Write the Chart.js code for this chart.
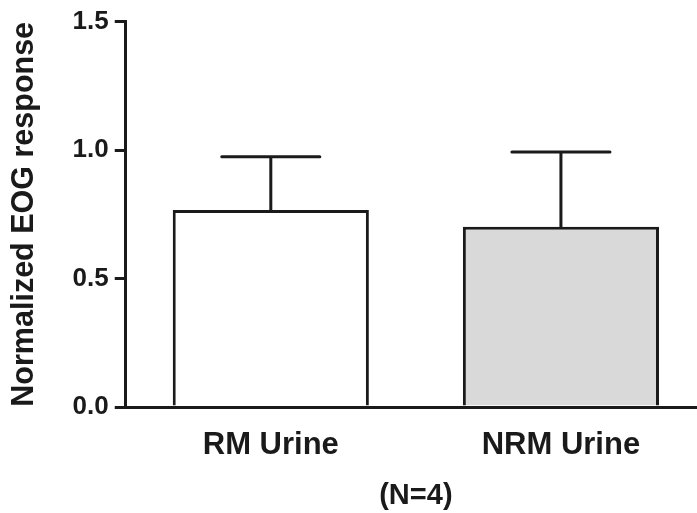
<!DOCTYPE html>
<html>
<head>
<meta charset="utf-8">
<script src="https://cdn.jsdelivr.net/npm/chart.js@4/dist/chart.umd.min.js"></script>
<style>
    html, body { margin: 0; padding: 0; background: #fff; overflow: hidden; }
    #wrap { position: relative; width: 706px; height: 513px; }
</style>
</head>
<body>
<div id="wrap"><canvas id="eogChart"></canvas></div>
<script>
// Data
const groups = ['RM Urine', 'NRM Urine'];
const meanResponse = [0.767, 0.702];
const semResponse = [0.207, 0.290];
const barFills = ['#ffffff', '#d9d9d9'];
const yTicks = [0.0, 0.5, 1.0, 1.5];

const ink = '#1a1a1a';
const fontFamily = "'Liberation Sans', Arial, sans-serif";

// Draw upward error bars with a cap on top of each bar
const errorBars = {
    id: 'errorBars',
    afterDatasetsDraw(chart) {
        const ctx = chart.ctx;
        const yScale = chart.scales.y;
        const meta = chart.getDatasetMeta(0);
        ctx.save();
        ctx.strokeStyle = ink;
        ctx.lineWidth = 3;
        ctx.lineCap = 'round';
        meta.data.forEach((bar, i) => {
            const top = yScale.getPixelForValue(meanResponse[i] + semResponse[i]);
            const half = bar.width / 4;
            ctx.beginPath();
            ctx.moveTo(bar.x, bar.y);
            ctx.lineTo(bar.x, top);
            ctx.moveTo(bar.x - half, top);
            ctx.lineTo(bar.x + half, top);
            ctx.stroke();
        });
        ctx.restore();
    }
};

document.addEventListener('DOMContentLoaded', function() {
    const ctx = document.getElementById('eogChart').getContext('2d');
    new Chart(ctx, {
        type: 'bar',
        data: {
            labels: groups,
            datasets: [{
                data: meanResponse,
                backgroundColor: barFills,
                borderColor: ink,
                borderWidth: 3,
                barPercentage: 0.676,
                categoryPercentage: 1.0
            }]
        },
        options: {
            responsive: true,
            maintainAspectRatio: false,
            animation: false,
            layout: { padding: { top: 21, left: 6, right: 0, bottom: 0 } },
            plugins: {
                legend: { display: false },
                tooltip: { enabled: false }
            },
            scales: {
                x: {
                    grid: { drawOnChartArea: false, drawTicks: false },
                    border: { color: ink, width: 3 },
                    ticks: {
                        color: ink,
                        padding: 20,
                        font: { family: fontFamily, size: 31, weight: 'bold' }
                    },
                    title: {
                        display: true,
                        text: '(N=4)',
                        color: ink,
                        padding: { top: -6, bottom: 0 },
                        font: { family: fontFamily, size: 29, weight: 'bold' }
                    }
                },
                y: {
                    min: 0,
                    max: 1.5,
                    afterBuildTicks(scale) {
                        scale.ticks = yTicks.map(v => ({ value: v }));
                    },
                    grid: {
                        drawOnChartArea: false,
                        drawTicks: true,
                        tickLength: 11,
                        color: ink,
                        lineWidth: 3
                    },
                    border: { color: ink, width: 3 },
                    ticks: {
                        color: ink,
                        padding: 6,
                        font: { family: fontFamily, size: 26, weight: 'bold' },
                        callback: v => Number(v).toFixed(1)
                    },
                    title: {
                        display: true,
                        text: 'Normalized EOG response',
                        color: ink,
                        padding: { top: 0, bottom: 24 },
                        font: { family: fontFamily, size: 30.5, weight: 'bold' }
                    }
                }
            }
        },
        plugins: [errorBars]
    });
});
</script>
</body>
</html>
